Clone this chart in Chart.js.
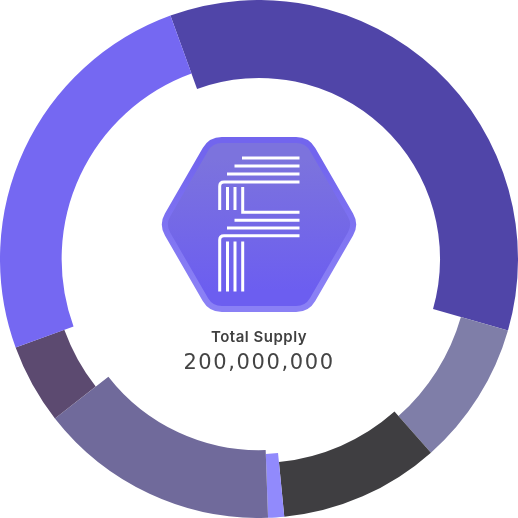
<!DOCTYPE html>
<html>
<head>
<meta charset="utf-8">
<script src="https://cdn.jsdelivr.net/npm/chart.js@4"></script>
<style>
  html, body { margin: 0; padding: 0; background: #ffffff; }
  #wrap { position: relative; width: 518px; height: 518px; }
  #chart { position: absolute; left: 0; top: 0; }
  #logo { position: absolute; left: 0; top: 0; }
  .label1 { position: absolute; left: 0; width: 518px; text-align: center; top: 327px;
            font-family: Inter, "Open Sans", sans-serif; font-weight: 600; font-size: 15px; letter-spacing: 0.5px; color: #404040; }
  .label2 { position: absolute; left: 0; width: 518px; text-align: center; top: 350px;
            font-family: "DejaVu Sans", sans-serif; font-weight: 400; font-size: 21px; letter-spacing: 1.6px; color: #444444; }
</style>
</head>
<body>
<div id="wrap">
  <canvas id="chart" width="518" height="518"></canvas>
  <svg id="logo" width="518" height="518" viewBox="0 0 518 518">
    <defs>
      <linearGradient id="gOuter" x1="0" y1="0" x2="0" y2="1">
        <stop offset="0" stop-color="#7265ee"/>
        <stop offset="1" stop-color="#8a80f5"/>
      </linearGradient>
      <linearGradient id="gInner" x1="0" y1="0" x2="0" y2="1">
        <stop offset="0" stop-color="#7c73dd"/>
        <stop offset="1" stop-color="#6c5ef0"/>
      </linearGradient>
    </defs>
    <polygon points="184,224.5 221.8,159 296.2,159 334,224.5 296.2,290 221.8,290"
             fill="url(#gOuter)" stroke="url(#gOuter)" stroke-width="44" stroke-linejoin="round"/>
    <polygon points="184,224.5 221.8,159 296.2,159 334,224.5 296.2,290 221.8,290"
             fill="url(#gInner)" stroke="url(#gInner)" stroke-width="32" stroke-linejoin="round"/>
    <g fill="none" stroke="#ffffff" stroke-width="3">
      <path d="M242,158 H299.5"/>
      <path d="M234.5,166 H299.5"/>
      <path d="M227,174 H299.5"/>
      <path d="M299.5,182 H224 Q219.7,182 219.7,186.3 V210"/>
      <path d="M227.5,187 V210"/>
      <path d="M235,187 V210"/>
      <path d="M242.7,187 V212.3 H299.5"/>
      <path d="M234.5,220.3 H299.5"/>
      <path d="M227,228 H299.5"/>
      <path d="M299.5,235.8 H224 Q219.7,235.8 219.7,240.1 V291.5"/>
      <path d="M227.5,241.5 V291.5"/>
      <path d="M235,241.5 V291.5"/>
      <path d="M242.7,241.5 V291.5"/>
    </g>
  </svg>
  <div class="label1">Total Supply</div>
  <div class="label2">200,000,000</div>
</div>
<script>
// ---- data ----
const categories = ['Allocation A', 'Allocation B', 'Allocation C', 'Allocation D', 'Allocation E', 'Allocation F', 'Allocation G'];
const shares = [35, 9, 10, 1, 15, 5, 25];

// ---- style ----
const sliceColors = ['#5045a8', '#7f7ea8', '#3f3e41', '#918afc', '#706a9b', '#5c4a70', '#7568f2'];
const innerRatios = [0.699, 0.811, 0.788, 0.753, 0.738, 0.80, 0.762];

const ringPlugin = {
  id: 'ringThickness',
  afterDatasetsUpdate(chart) {
    const meta = chart.getDatasetMeta(0);
    meta.data.forEach((arc, i) => {
      arc.innerRadius = arc.outerRadius * innerRatios[i];
    });
  }
};

new Chart(document.getElementById('chart'), {
  type: 'doughnut',
  data: {
    labels: categories,
    datasets: [{
      data: shares,
      backgroundColor: sliceColors,
      borderWidth: 0
    }]
  },
  options: {
    responsive: false,
    animation: false,
    rotation: -20,
    cutout: '70%',
    layout: { padding: 0 },
    plugins: { legend: { display: false }, tooltip: { enabled: false } }
  },
  plugins: [ringPlugin]
});
</script>
</body>
</html>
